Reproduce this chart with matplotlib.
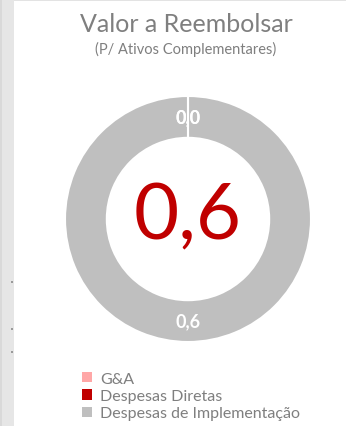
import matplotlib
matplotlib.use('Agg')
import matplotlib.pyplot as plt
from matplotlib.patches import Patch, Rectangle
import numpy as np

# values for the reimbursement donut
categorias = ['G&A', 'Despesas Diretas', 'Despesas de Implementação']
valores = [0.0, 0.0, 0.6]
cores = ['#FFA7A7', '#C00000', '#BFBFBF']
total = sum(valores)

plt.rcParams['font.family'] = ['Lato', 'DejaVu Sans']

W, H = 346, 427
fig = plt.figure(figsize=(W / 100, H / 100), dpi=100)

# sheet chrome: grey strip on the left and a thin line on top
fig.patches.append(Rectangle((0, 0), 14 / W, 1, transform=fig.transFigure,
                             facecolor='#E6E6E6', edgecolor='none'))
fig.patches.append(Rectangle((0, 0), 2 / W, 1, transform=fig.transFigure,
                             facecolor='#D9D9D9', edgecolor='none'))
fig.patches.append(Rectangle((14 / W, 1 - 2 / H), 1, 2 / H, transform=fig.transFigure,
                             facecolor='#E3E3E3', edgecolor='none'))
for yy in [283, 330, 353]:
    fig.patches.append(Rectangle((11 / W, 1 - (yy + 1) / H), 2 / W, 2 / H,
                                 transform=fig.transFigure,
                                 facecolor='#9A9A9A', edgecolor='none'))

fig.text(186 / W, 1 - 25 / H, 'Valor a Reembolsar', ha='center', va='center',
         fontsize=18, color='#7F7F7F')
fig.text(186 / W, 1 - 49 / H, '(P/ Ativos Complementares)', ha='center', va='center',
         fontsize=10.5, color='#7F7F7F')

cx, cy, r = 188, 220, 123
ax = fig.add_axes([(cx - r) / W, (H - cy - r) / H, 2 * r / W, 2 * r / H])
wedges, _ = ax.pie(valores, colors=cores, startangle=90, counterclock=False,
                   radius=1, normalize=True,
                   wedgeprops=dict(width=0.34, edgecolor='white', linewidth=1.5))
ax.set_xlim(-1, 1)
ax.set_ylim(-1, 1)
ax.set_aspect('equal')
ax.axis('off')

# separators for the empty slices
for w, v in zip(wedges, valores):
    if v == 0:
        a = np.deg2rad(w.theta1)
        ax.plot([0.66 * np.cos(a), np.cos(a)], [0.66 * np.sin(a), np.sin(a)],
                color='white', lw=1.5, solid_capstyle='butt')

# data labels in the middle of the ring
for w, v in zip(wedges, valores):
    ang = np.deg2rad((w.theta1 + w.theta2) / 2)
    if w.theta2 - w.theta1 > 180:
        ang = np.deg2rad(-90)
    ax.text(0.83 * np.cos(ang), 0.83 * np.sin(ang), f'{v:.1f}'.replace('.', ','),
            ha='center', va='center', fontsize=13, fontweight='bold', color='white')

ax.text(0, 0.02, f'{total:.1f}'.replace('.', ','), ha='center', va='center',
        fontsize=56, color='#C00000')

handles = [Patch(facecolor=c, edgecolor='none') for c in cores]
fig.legend(handles, categorias, loc='upper left', bbox_to_anchor=(74 / W, 1 - 365 / H),
           frameon=False, fontsize=11.5, labelcolor='#7F7F7F', handlelength=0.6,
           handleheight=0.6, handletextpad=0.55, labelspacing=0.2, borderpad=0)

fig.savefig('out.png', dpi=100)
